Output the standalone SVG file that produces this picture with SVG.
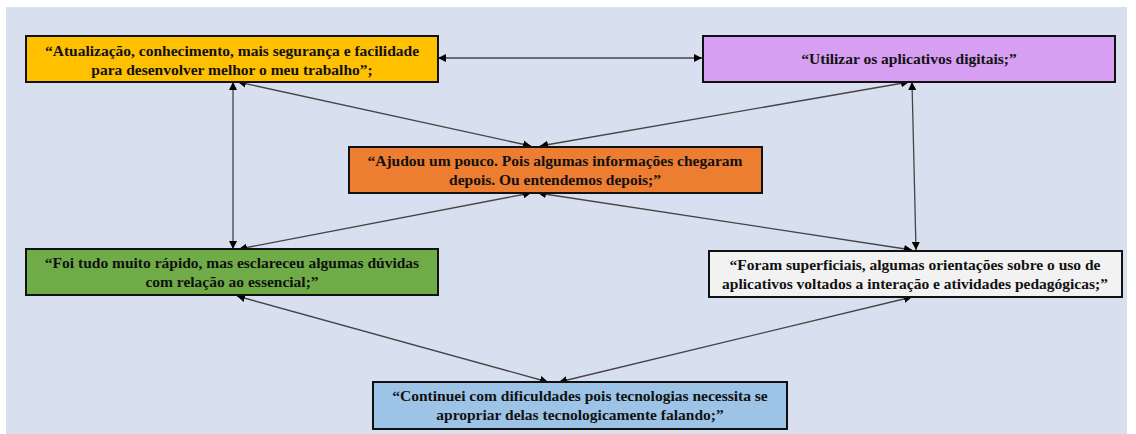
<svg xmlns="http://www.w3.org/2000/svg" width="1136" height="434" viewBox="0 0 1136 434">
<defs>
<style>
.box{stroke:#111;stroke-width:2}
.t{font-family:'Liberation Serif','DejaVu Serif',serif;font-weight:700;font-size:15.5px;fill:#111;text-anchor:middle}
.c{stroke:#444;stroke-width:1.3;fill:none;marker-start:url(#a);marker-end:url(#a)}
</style>
<marker id="a" viewBox="0 0 10 10" refX="10" refY="5" markerWidth="8" markerHeight="8" markerUnits="userSpaceOnUse" orient="auto-start-reverse">
<path d="M0,0 L10,5 L0,10 z" fill="#000"/>
</marker>
</defs>
<rect x="0" y="0" width="1136" height="434" fill="#fff"/>
<rect x="6" y="7" width="1121" height="427" fill="#d8e0ef"/>
<g id="connectors">
<line class="c" x1="438" y1="58" x2="702" y2="58"/>
<line class="c" x1="233" y1="82" x2="233" y2="249"/>
<line class="c" x1="238" y1="82" x2="531" y2="146"/>
<line class="c" x1="909" y1="82" x2="540" y2="146"/>
<line class="c" x1="912" y1="82" x2="916" y2="250"/>
<line class="c" x1="531" y1="193" x2="239" y2="249"/>
<line class="c" x1="538" y1="193" x2="912" y2="250"/>
<line class="c" x1="237" y1="296" x2="548" y2="382"/>
<line class="c" x1="912" y1="297" x2="559" y2="382"/>
</g>
<g id="n1">
<rect class="box" x="26" y="36" width="412" height="46" fill="#ffc000"/>
<text class="t" x="232" y="56" font-family="Liberation Serif, serif">“Atualização, conhecimento, mais segurança e facilidade</text>
<text class="t" x="232" y="75" font-family="Liberation Serif, serif">para desenvolver melhor o meu trabalho”;</text>
</g>
<g id="n2">
<rect class="box" x="703" y="36" width="412" height="46" fill="#d69ff2"/>
<text class="t" x="909" y="64">“Utilizar os aplicativos digitais;”</text>
</g>
<g id="n3">
<rect class="box" x="349" y="147" width="413" height="46" fill="#ed7d31"/>
<text class="t" x="555" y="166">“Ajudou um pouco. Pois algumas informações chegaram</text>
<text class="t" x="555" y="185">depois. Ou entendemos depois;”</text>
</g>
<g id="n4">
<rect class="box" x="26" y="249" width="412" height="46" fill="#6fab46"/>
<text class="t" x="232" y="268">“Foi tudo muito rápido, mas esclareceu algumas dúvidas</text>
<text class="t" x="232" y="287">com relação ao essencial;”</text>
</g>
<g id="n5">
<rect class="box" x="709" y="251" width="413" height="46" fill="#f2f2f2"/>
<text class="t" x="915" y="270">“Foram superficiais, algumas orientações sobre o uso de</text>
<text class="t" x="915" y="289">aplicativos voltados a interação e atividades pedagógicas;”</text>
</g>
<g id="n6">
<rect class="box" x="373" y="382" width="414" height="47" fill="#9dc3e6"/>
<text class="t" x="580" y="401">“Continuei com dificuldades pois tecnologias necessita se</text>
<text class="t" x="580" y="420">apropriar delas tecnologicamente falando;”</text>
</g>
</svg>
